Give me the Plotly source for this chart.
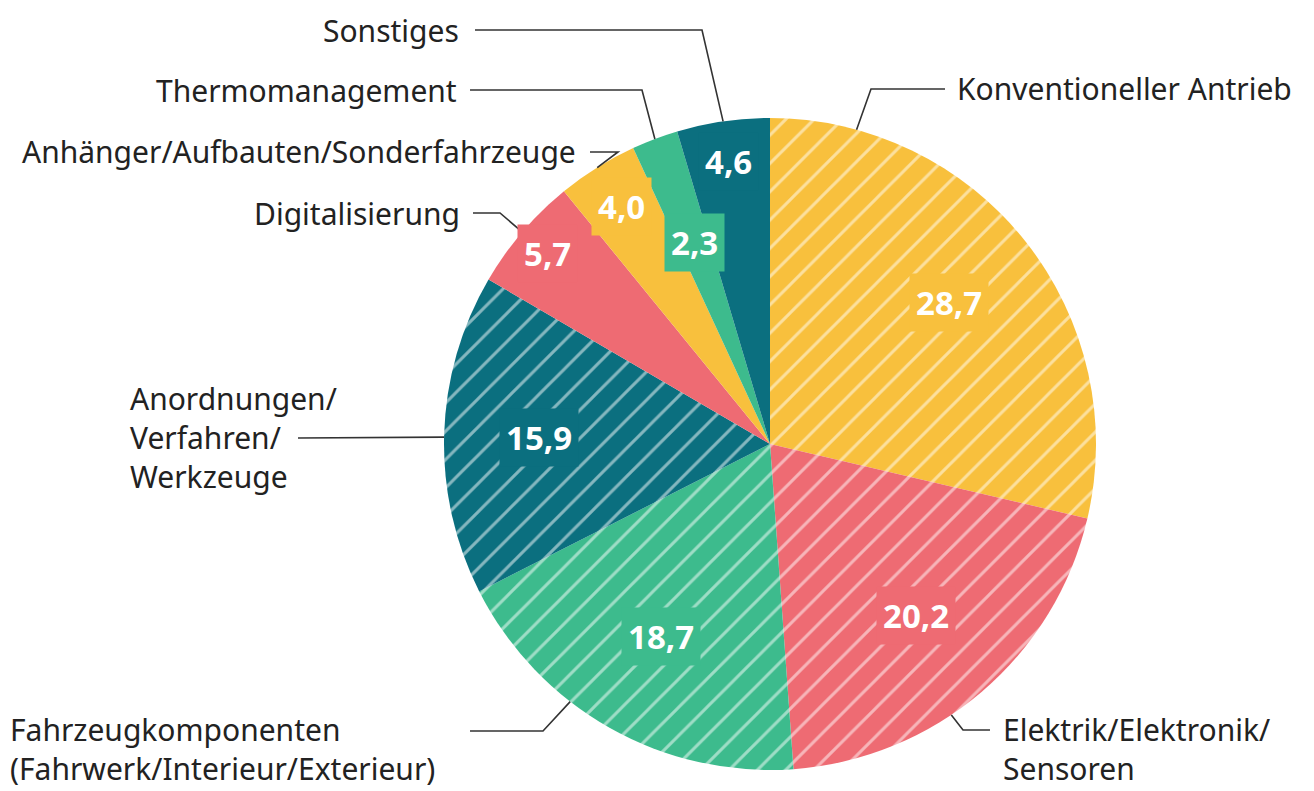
import math
import plotly.graph_objects as go

# ---- data ----
categories = [
    "Konventioneller Antrieb",
    "Elektrik/Elektronik/<br>Sensoren",
    "Fahrzeugkomponenten<br>(Fahrwerk/Interieur/Exterieur)",
    "Anordnungen/<br>Verfahren/<br>Werkzeuge",
    "Digitalisierung",
    "Anhänger/Aufbauten/Sonderfahrzeuge",
    "Thermomanagement",
    "Sonstiges",
]
values = [28.7, 20.2, 18.7, 15.9, 5.7, 4.0, 2.3, 4.6]
value_labels = ["28,7", "20,2", "18,7", "15,9", "5,7", "4,0", "2,3", "4,6"]

# ---- styles ----
YEL, RED, GRN, TEAL = "#F8C03D", "#EE6B73", "#3DBB8D", "#0B6F7F"
colors = [YEL, RED, GRN, TEAL, RED, YEL, GRN, TEAL]
hatched = [True, True, True, True, False, False, False, False]

W, H = 1314, 791
CX, CY, R = 770, 444, 326          # pie centre / radius in px
FONT = "Noto Sans"
LINE = "#333333"

# value-label radial positions (fraction of radius)
val_r = [0.70, 0.69, 0.68, 0.71, 0.90, 0.86, 0.66, 0.875]
# angle (deg, clockwise from top) where each leader line touches the pie; None = slice middle
leader_angle = [15.4, 146.2, 217.8, 271.2, None, None, None, None]
# leader geometry: elbow point and text end point (px), text anchor
leader_elbow = [(871, 89), (963, 730), (543, 731), (298, 438), (500, 213), (618, 152), (642, 90), (702, 30)]
leader_end = [(945, 89), (990, 730), (470, 731), (298, 438), (473, 213), (590, 152), (470, 90), (475, 30)]
label_pos = [(955, 89, "left", "middle"), (1001, 749, "left", "middle"), (8, 749, "left", "middle"),
             (128, 437, "left", "middle"), (462, 213, "right", "middle"), (578, 152, "right", "middle"),
             (459, 90, "right", "middle"), (461, 30, "right", "middle")]


def px(x, y):
    return x / W, 1 - y / H


total = sum(values)
mids = []
acc = 0
for v in values:
    mids.append((acc + v / 2) / total * 360)
    acc += v

fig = go.Figure(go.Pie(
    values=values,
    labels=[c.replace("<br>", " ") for c in categories],
    sort=False,
    direction="clockwise",
    rotation=0,
    textinfo="none",
    hoverinfo="label+value",
    showlegend=False,
    marker=dict(
        colors=colors,
        line=dict(width=0),
        pattern=dict(
            shape=["/" if h else "" for h in hatched],
            fillmode="overlay",
            fgcolor="white",
            size=20,
            solidity=0.15,
        ),
    ),
    domain=dict(x=[(CX - R) / W, (CX + R) / W], y=[1 - (CY + R) / H, 1 - (CY - R) / H]),
))

annotations = []
shapes = []
for i, lab in enumerate(value_labels):
    a = math.radians(mids[i])
    x = CX + val_r[i] * R * math.sin(a)
    y = CY - val_r[i] * R * math.cos(a)
    xx, yy = px(x, y)
    annotations.append(dict(
        x=xx, y=yy, xref="paper", yref="paper", text=f"<b>{lab}</b>", showarrow=False,
        xanchor="center", yanchor="middle",
        font=dict(family=FONT, size=33, color="white"), bgcolor=colors[i], borderpad=6,
    ))

for i, cat in enumerate(categories):
    ang = leader_angle[i] if leader_angle[i] is not None else mids[i]
    a = math.radians(ang)
    ex = CX + R * math.sin(a)
    ey = CY - R * math.cos(a)
    pts = [(ex, ey), leader_elbow[i], leader_end[i]]
    path = "M " + " L ".join(f"{px(*p)[0]:.5f},{px(*p)[1]:.5f}" for p in pts)
    shapes.append(dict(type="path", xref="paper", yref="paper", path=path,
                       line=dict(color=LINE, width=1.6)))
    lx, ly, xa, ya = label_pos[i]
    x, y = px(lx, ly)
    annotations.append(dict(
        x=x, y=y, xref="paper", yref="paper", text=cat, showarrow=False,
        xanchor=xa, yanchor=ya, align="left",
        font=dict(family=FONT, size=30, color="#222222"),
    ))

fig.update_layout(
    width=W, height=H,
    margin=dict(l=0, r=0, t=0, b=0),
    paper_bgcolor="white", plot_bgcolor="white",
    annotations=annotations, shapes=shapes,
)
fig.write_html("out.html", config={"displayModeBar": False},
               post_script="document.body.style.margin='0';")
